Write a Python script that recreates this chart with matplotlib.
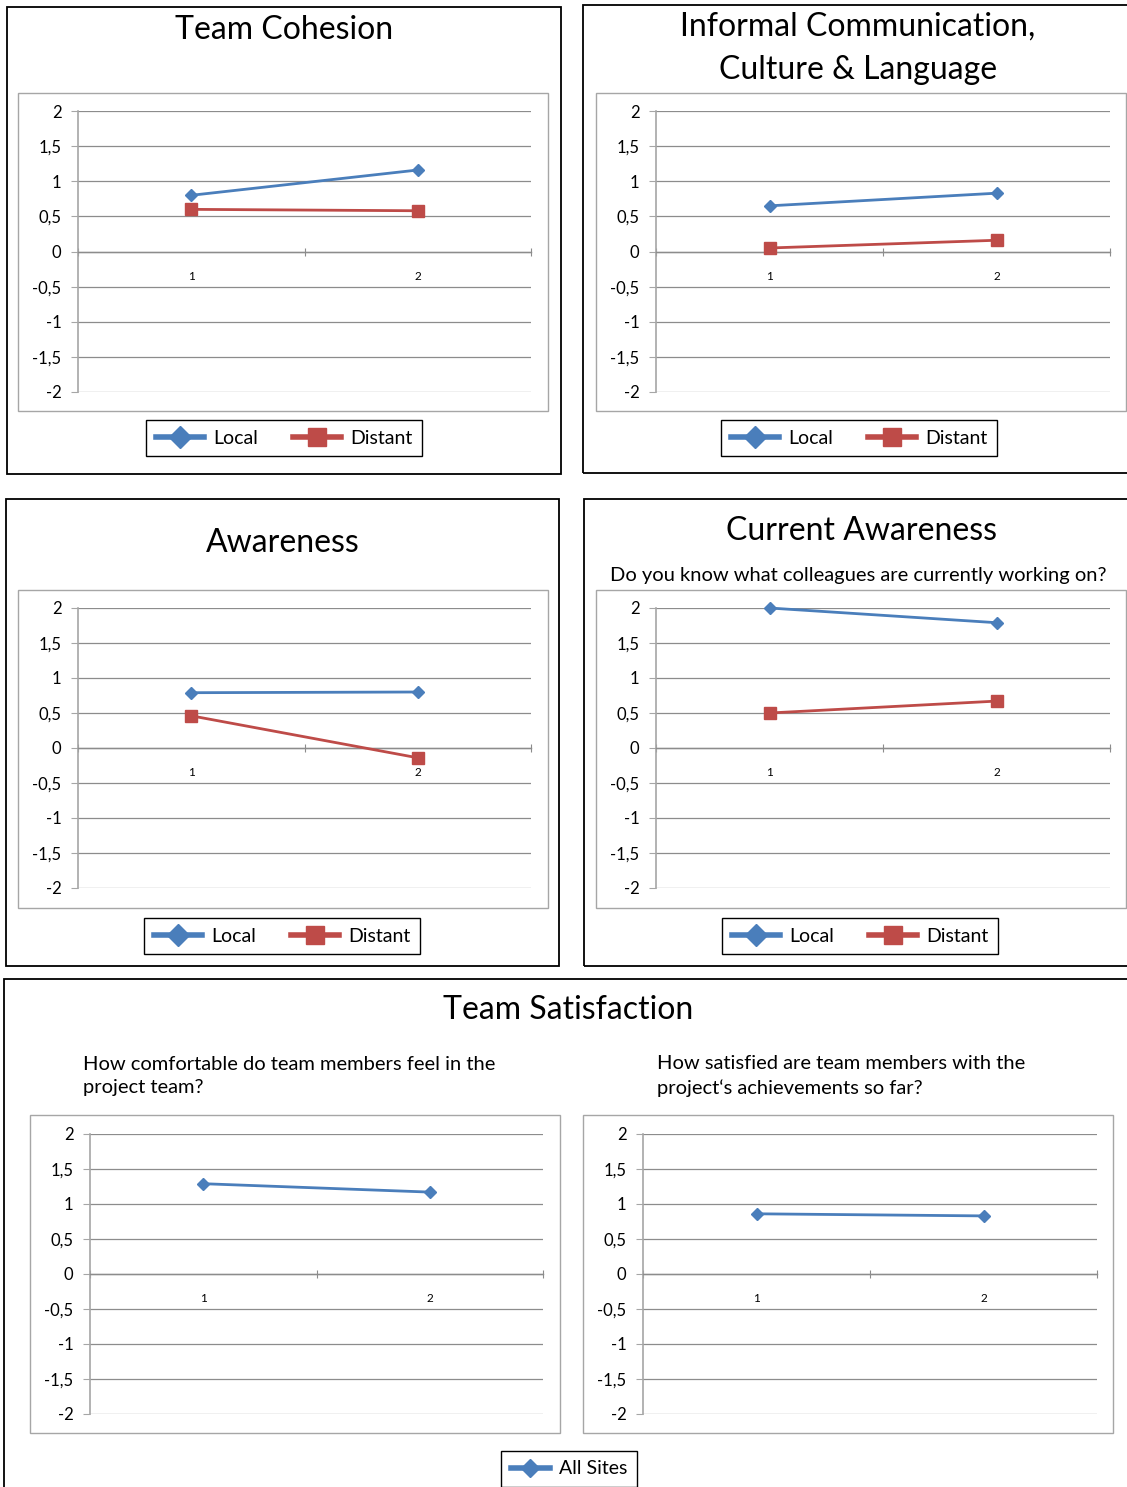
import matplotlib
matplotlib.use("Agg")
import matplotlib.pyplot as plt
from matplotlib.patches import Rectangle
from matplotlib.lines import Line2D

plt.rcParams['font.family'] = ['Lato', 'DejaVu Sans']

# Data
categories = ['1', '2']
cohesion_local = [0.80, 1.16]
cohesion_distant = [0.60, 0.58]
informal_local = [0.65, 0.83]
informal_distant = [0.05, 0.16]
awareness_local = [0.79, 0.80]
awareness_distant = [0.46, -0.14]
current_local = [2.00, 1.79]
current_distant = [0.50, 0.67]
comfort_all = [1.29, 1.17]
satisfied_all = [0.86, 0.83]
ytick_values = [-2, -1.5, -1, -0.5, 0, 0.5, 1, 1.5, 2]
ytick_labels = ['-2', '-1,5', '-1', '-0,5', '0', '0,5', '1', '1,5', '2']

BLUE = '#4a7ebb'
RED = '#be4b48'
GRID = '#8c8c8c'
AREA = '#a6a6a6'
TITLE_SIZE = 23
SUB_SIZE = 14.5

W, H = 1127, 1487
fig = plt.figure(figsize=(W / 100, H / 100), dpi=100)


def frac(x0, y0, x1, y1):
    # pixel box (top-left origin) -> figure fraction [l, b, w, h]
    return [x0 / W, 1 - y1 / H, (x1 - x0) / W, (y1 - y0) / H]


def rect(x0, y0, x1, y1, color, lw):
    l, b, w, h = frac(x0, y0, x1, y1)
    fig.patches.append(Rectangle((l, b), w, h, transform=fig.transFigure,
                                 fill=False, edgecolor=color, linewidth=lw))


def chart(box, series):
    ax = fig.add_axes(frac(*box))
    x = list(range(1, len(categories) + 1))
    for vals, color, marker, ms in series:
        ax.plot(x, vals, color=color, lw=2.0, marker=marker, ms=ms,
                markeredgecolor=color, zorder=3, clip_on=False)
    ax.set_xlim(0.5, len(categories) + 0.5)
    ax.set_ylim(-2, 2)
    ax.set_yticks(ytick_values)
    ax.set_yticklabels(ytick_labels, fontsize=12)
    ax.yaxis.grid(True, color=GRID, lw=0.9)
    ax.set_axisbelow(True)
    for s in ['top', 'right']:
        ax.spines[s].set_visible(False)
    ax.spines['left'].set_color(AREA)
    ax.spines['left'].set_linewidth(1.2)
    ax.spines['bottom'].set_position(('data', 0))
    ax.spines['bottom'].set_color(GRID)
    ax.spines['bottom'].set_linewidth(1.0)
    ax.tick_params(axis='y', length=5, color=AREA, pad=7, direction='out')
    ax.set_xticks([0.5 + i for i in range(len(categories) + 1)])
    ax.set_xticklabels([])
    ax.set_xticks(x, minor=True)
    ax.set_xticklabels(categories, minor=True, fontsize=8.5)
    ax.tick_params(axis='x', which='major', length=6, direction='inout', color=GRID)
    ax.tick_params(axis='x', which='minor', length=0, pad=14)
    return ax


def legend(ax, handles, labels, cx, cy, hl=2.5, bpad=0.5):
    ax.legend(handles, labels, loc='center', bbox_to_anchor=(cx / W, 1 - cy / H),
              bbox_transform=fig.transFigure, ncol=len(handles), fontsize=14,
              frameon=True, fancybox=False, edgecolor='black', framealpha=1,
              handlelength=hl, columnspacing=1.8, handletextpad=0.45,
              borderpad=bpad, borderaxespad=0)


local_h = Line2D([], [], color=BLUE, lw=4, marker='D', ms=11)
distant_h = Line2D([], [], color=RED, lw=4, marker='s', ms=13)
all_h = Line2D([], [], color=BLUE, lw=4, marker='D', ms=9)

# outer black frames
rect(7, 7, 561, 474, 'black', 1.3)
rect(583, 5, 1140, 473, 'black', 1.3)
rect(6, 499, 559, 966, 'black', 1.3)
rect(584, 499, 1140, 966, 'black', 1.3)
rect(4, 979, 1140, 1500, 'black', 1.3)

# plot area frames
for b in [(18, 93, 548, 411), (596, 93, 1126, 411), (18, 590, 548, 908),
          (596, 590, 1126, 908), (30, 1115, 560, 1433), (583, 1115, 1113, 1433)]:
    rect(*b, AREA, 1.0)

# Team Cohesion
ax = chart((78, 111, 531, 392), [(cohesion_local, BLUE, 'D', 6), (cohesion_distant, RED, 's', 8)])
fig.text(284 / W, 1 - 30 / H, 'Team Cohesion', ha='center', va='center', fontsize=TITLE_SIZE)
legend(ax, [local_h, distant_h], ['Local', 'Distant'], 284, 438)

# Informal Communication
ax = chart((656, 111, 1110, 392), [(informal_local, BLUE, 'D', 6), (informal_distant, RED, 's', 8)])
fig.text(858 / W, 1 - 48 / H, 'Informal Communication,\nCulture & Language', ha='center',
         va='center', fontsize=TITLE_SIZE, linespacing=1.55)
legend(ax, [local_h, distant_h], ['Local', 'Distant'], 859, 438)

# Awareness
ax = chart((78, 608, 531, 888), [(awareness_local, BLUE, 'D', 6), (awareness_distant, RED, 's', 8)])
fig.text(283 / W, 1 - 543 / H, 'Awareness', ha='center', va='center', fontsize=TITLE_SIZE)
legend(ax, [local_h, distant_h], ['Local', 'Distant'], 282, 936)

# Current Awareness
ax = chart((656, 608, 1110, 888), [(current_local, BLUE, 'D', 6), (current_distant, RED, 's', 8)])
fig.text(861 / W, 1 - 531 / H, 'Current Awareness', ha='center', va='center', fontsize=TITLE_SIZE)
fig.text(858 / W, 1 - 575 / H, 'Do you know what colleagues are currently working on?',
         ha='center', va='center', fontsize=SUB_SIZE)
legend(ax, [local_h, distant_h], ['Local', 'Distant'], 860, 936)

# Team Satisfaction
fig.text(568 / W, 1 - 1010 / H, 'Team Satisfaction', ha='center', va='center', fontsize=TITLE_SIZE)
fig.text(83 / W, 1 - 1076 / H, 'How comfortable do team members feel in the\nproject team?',
         ha='left', va='center', fontsize=SUB_SIZE, linespacing=1.42)
fig.text(657 / W, 1 - 1076 / H, 'How satisfied are team members with the\nproject\u2018s achievements so far?',
         ha='left', va='center', fontsize=SUB_SIZE, linespacing=1.42)
ax = chart((90, 1134, 543, 1414), [(comfort_all, BLUE, 'D', 6)])
ax2 = chart((643, 1134, 1097, 1414), [(satisfied_all, BLUE, 'D', 6)])
legend(ax, [all_h], ['All Sites'], 569, 1469, hl=2.0, bpad=0.5)

fig.savefig('out.png', dpi=100)
